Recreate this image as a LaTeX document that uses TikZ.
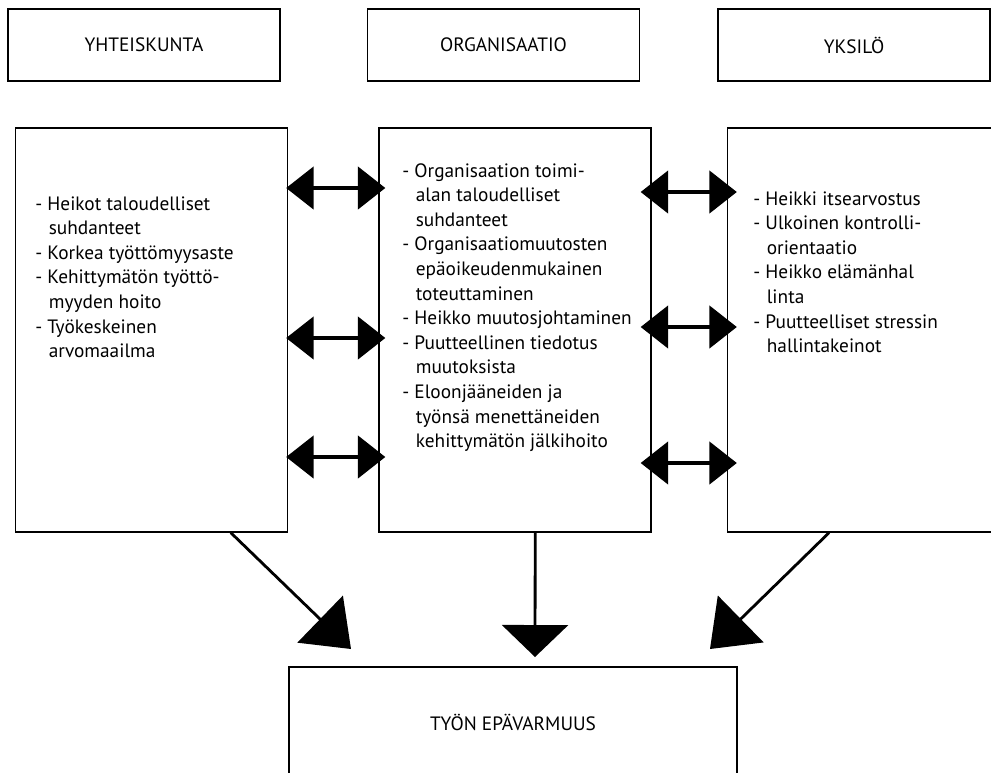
\documentclass[tikz,border=0pt]{standalone}
\usepackage{fontspec}
\setmainfont{PT Sans}
\usepackage{tikz}
\usetikzlibrary{positioning,arrows.meta,calc}
\newcommand{\ind}{\hspace*{0.27cm}}

\begin{document}
\begin{tikzpicture}[
  x=0.02cm, y=-0.02cm,
  font=\fontsize{11}{14}\selectfont,
  hbox/.style={draw, line width=0.8pt, minimum width=5.44cm, minimum height=1.44cm, inner sep=0pt},
  lbox/.style={draw, line width=0.8pt, minimum width=5.44cm, minimum height=8.08cm, inner sep=0pt},
  obox/.style={draw, line width=0.8pt, minimum width=8.96cm, minimum height=2.2cm, inner sep=0pt},
  itm/.style={anchor=north west, align=left, inner sep=0pt},
  dbl/.style={line width=1.8pt, {Triangle[length=0.55cm,width=0.85cm]}-{Triangle[length=0.55cm,width=0.85cm]}},
  big/.style={line width=1.6pt, -{Triangle[length=0.86cm,width=1.3cm]}},
]
\useasboundingbox (0,0) rectangle (991,772);
\clip (0,0) rectangle (991,772);
% ---------- headings ----------
\node[hbox] (h1) at (144,45) {YHTEISKUNTA};
\node[hbox] (h2) at (503.5,45) {ORGANISAATIO};
\node[hbox] (h3) at (854,45) {YKSILÖ};
% ---------- factor boxes ----------
\node[lbox] (l1) at (151.5,330) {};
\node[lbox] (l2) at (515,330) {};
\node[lbox] (l3) at (863.5,330) {};
\node[itm] (t1) at (35,196) {- Heikot taloudelliset\\
  \ind suhdanteet\\
  - Korkea työttömyysaste\\
  - Kehittymätön työttö-\\
  \ind myyden hoito\\
  - Työkeskeinen\\
  \ind arvomaailma};
\node[itm] (t2) at (402,163) {- Organisaation toimi-\\
  \ind alan taloudelliset\\
  \ind suhdanteet\\
  - Organisaatiomuutosten\\
  \ind epäoikeudenmukainen\\
  \ind toteuttaminen\\
  - Heikko muutosjohtaminen\\
  - Puutteellinen tiedotus\\
  \ind muutoksista\\
  - Eloonjääneiden ja\\
  \ind työnsä menettäneiden\\
  \ind kehittymätön jälkihoito};
\node[itm] (t3) at (753,191) {- Heikki itsearvostus\\
  - Ulkoinen kontrolli-\\
  \ind orientaatio\\
  - Heikko elämänhal\\
  \ind linta\\
  - Puutteelliset stressin\\
  \ind hallintakeinot};
% ---------- outcome ----------
\node[obox] (res) at (513,722) {TYÖN EPÄVARMUUS};
% ---------- arrows ----------
\foreach \yy in {188,338,457}
  \draw[dbl, shorten <=-0.04cm, shorten >=-0.14cm] (l1.east |- 0,\yy) -- (l2.west |- 0,\yy);
\foreach \yy in {192,327,463}
  \draw[dbl, shorten <=-0.22cm, shorten >=-0.2cm] (l2.east |- 0,\yy) -- (l3.west |- 0,\yy);
\coordinate (tipL) at (351,649);
\coordinate (tipM) at (535,657);
\coordinate (tipR) at (710,649);
\draw[big] ($(l1.south west)!0.79!(l1.south east)$) -- (tipL);
\draw[big, -{Triangle[length=0.64cm,width=1.32cm]}] ($(l2.south west)!0.574!(l2.south east)$) -- (tipM);
\draw[big] ($(l3.south west)!0.374!(l3.south east)$) -- (tipR);
\end{tikzpicture}
\end{document}
